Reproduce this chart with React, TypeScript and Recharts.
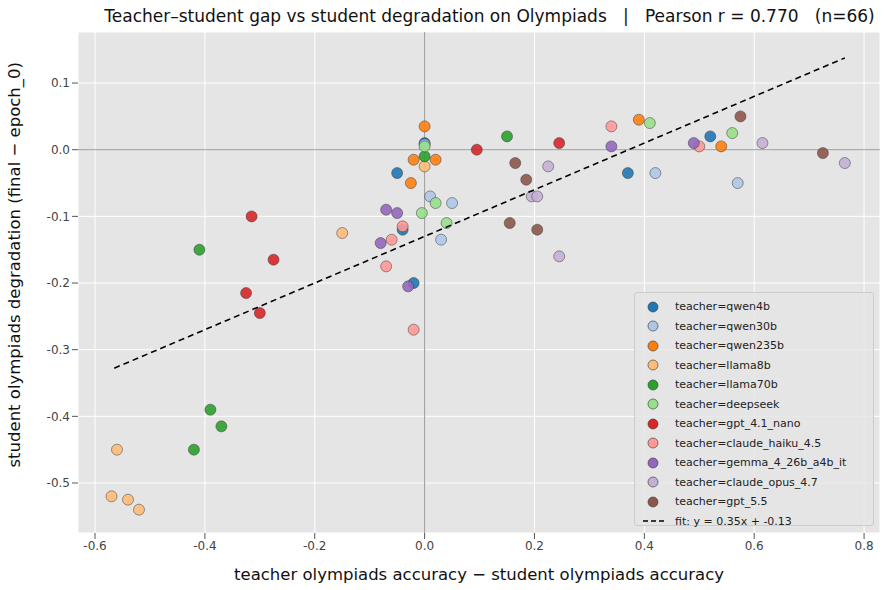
import React from "react";
import { ScatterChart, Scatter, XAxis, YAxis, CartesianGrid, ReferenceLine } from "recharts";

const groups = ["qwen4b","qwen30b","qwen235b","llama8b","llama70b","deepseek","gpt_4.1_nano","claude_haiku_4.5","gemma_4_26b_a4b_it","claude_opus_4.7","gpt_5.5"];
const colors = ["#1f77b4","#aec7e8","#ff7f0e","#ffbb78","#2ca02c","#98df8a","#d62728","#ff9896","#9467bd","#c5b0d5","#8c564b"];
const qwen4b = [[-0.05,-0.035],[0,0.01],[-0.04,-0.12],[-0.02,-0.2],[0.37,-0.035],[0.52,0.02]];
const qwen30b = [[0,0.008],[0.01,-0.07],[0.05,-0.08],[0.03,-0.135],[0.42,-0.035],[0.57,-0.05]];
const qwen235b = [[0,0.035],[-0.02,-0.015],[0.02,-0.015],[-0.025,-0.05],[0.39,0.045],[0.54,0.005]];
const llama8b = [[0,-0.025],[-0.15,-0.125],[-0.56,-0.45],[-0.57,-0.52],[-0.54,-0.525],[-0.52,-0.54]];
const llama70b = [[0,-0.01],[0.15,0.02],[-0.41,-0.15],[-0.39,-0.39],[-0.37,-0.415],[-0.42,-0.45]];
const deepseek = [[0,0.005],[0.02,-0.08],[-0.005,-0.095],[0.04,-0.11],[0.41,0.04],[0.56,0.025]];
const gpt41nano = [[0.095,0],[0.245,0.01],[-0.315,-0.1],[-0.325,-0.215],[-0.3,-0.245],[-0.275,-0.165]];
const haiku = [[-0.04,-0.115],[-0.06,-0.135],[-0.07,-0.175],[-0.02,-0.27],[0.34,0.035],[0.5,0.005]];
const gemma = [[-0.07,-0.09],[-0.05,-0.095],[-0.08,-0.14],[-0.03,-0.205],[0.34,0.005],[0.49,0.01]];
const opus = [[0.225,-0.025],[0.195,-0.07],[0.205,-0.07],[0.245,-0.16],[0.615,0.01],[0.765,-0.02]];
const gpt55 = [[0.165,-0.02],[0.185,-0.045],[0.155,-0.11],[0.205,-0.12],[0.575,0.05],[0.725,-0.005]];
const series = [qwen4b,qwen30b,qwen235b,llama8b,llama70b,deepseek,gpt41nano,haiku,gemma,opus,gpt55];
const fitX = [-0.565, 0.765];
const slope = 0.35, intercept = -0.13;
const xTicks = [-0.6,-0.4,-0.2,0,0.2,0.4,0.6,0.8];
const yTicks = [-0.5,-0.4,-0.3,-0.2,-0.1,0,0.1];

const fitData = fitX.map(x => ({ x, y: slope * x + intercept }));
const font = "DejaVu Sans";

const Dot = (p: any) => <circle cx={p.cx} cy={p.cy} r={5.5} fill={p.fill} fillOpacity={0.9} stroke="#333" strokeWidth={0.6} strokeOpacity={0.8} />;

export default function App() {
  return (
    <div style={{ position: "absolute", left: 0, top: 0, width: 889, height: 590, background: "#fff", fontFamily: font }}>
      <div style={{ position: "absolute", top: 6, left: 0, width: 979, textAlign: "center", fontSize: 17, color: "#111", whiteSpace: "pre" }}>
        {"Teacher–student gap vs student degradation on Olympiads   |   Pearson r = 0.770   (n=66)"}
      </div>
      <ScatterChart width={889} height={590} margin={{ top: 32, right: 9, bottom: 0, left: 0 }}>
        <CartesianGrid stroke="#fff" strokeWidth={1} horizontal vertical fill="#e5e5e5" />
        <XAxis type="number" dataKey="x" domain={[-0.631, 0.829]} ticks={xTicks} height={57} tickLine={{ stroke: "#555" }} axisLine={false}
          tick={{ fill: "#444", fontSize: 12, fontFamily: font }} tickFormatter={(v: number) => v.toFixed(1)} allowDataOverflow
          label={{ value: "teacher olympiads accuracy − student olympiads accuracy", position: "insideBottom", offset: 10, fill: "#111", fontSize: 16.5, fontFamily: font }} />
        <YAxis type="number" dataKey="y" domain={[-0.575, 0.1766]} ticks={yTicks} width={78} tickLine={{ stroke: "#555" }} axisLine={false}
          tick={{ fill: "#444", fontSize: 12, fontFamily: font }} tickFormatter={(v: number) => v.toFixed(1)} allowDataOverflow
          label={{ value: "student olympiads degradation (final − epoch_0)", angle: -90, position: "insideLeft", offset: 14, dy: 185, fill: "#111", fontSize: 16.5, fontFamily: font }} />
        <ReferenceLine x={0} stroke="#999" strokeWidth={1} />
        <ReferenceLine y={0} stroke="#999" strokeWidth={1} />
        {series.map((s, i) => (
          <Scatter key={groups[i]} data={s.map(([x, y]) => ({ x, y }))} fill={colors[i]} shape={<Dot />} isAnimationActive={false} />
        ))}
        <Scatter data={fitData} line={{ stroke: "#000", strokeWidth: 1.6, strokeDasharray: "6 4" }} shape={() => null} isAnimationActive={false} />
      </ScatterChart>
      <div style={{ position: "absolute", left: 634, top: 292, width: 240, height: 234, background: "rgba(229,229,229,0.8)", border: "1px solid #ccc", borderRadius: 3, boxSizing: "border-box", padding: "4px 8px", fontSize: 11, color: "#222" }}>
        {groups.map((g, i) => (
          <div key={g} style={{ display: "flex", alignItems: "center", height: 19.5 }}>
            <svg width={24} height={12}><circle cx={10} cy={6} r={5} fill={colors[i]} stroke="#333" strokeWidth={0.6} /></svg>
            <span style={{ marginLeft: 8 }}>{"teacher=" + g}</span>
          </div>
        ))}
        <div style={{ display: "flex", alignItems: "center", height: 19.5 }}>
          <svg width={24} height={12}><line x1={0} y1={6} x2={22} y2={6} stroke="#000" strokeWidth={1.6} strokeDasharray="5 3" /></svg>
          <span style={{ marginLeft: 8 }}>{"fit: y = 0.35x + -0.13"}</span>
        </div>
      </div>
    </div>
  );
}
